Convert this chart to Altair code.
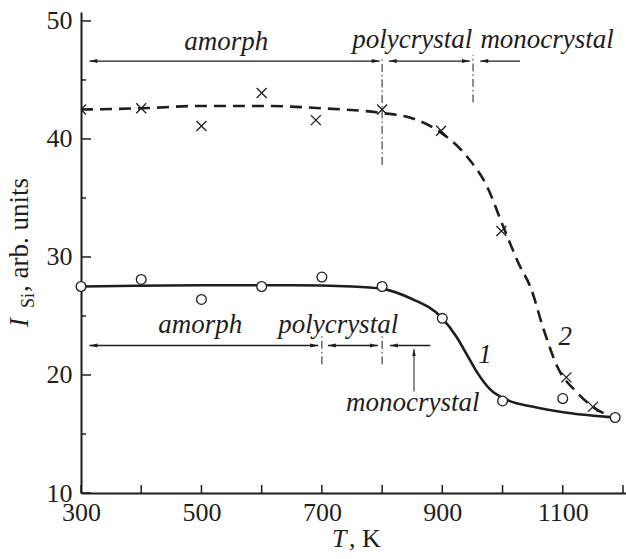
import altair as alt
import pandas as pd

# ---- data ----
# curve 1 (circles, solid fit)
c1_T = [300, 400, 500, 600, 700, 800, 900, 1000, 1100, 1187]
c1_I = [27.5, 28.1, 26.4, 27.5, 28.3, 27.5, 24.8, 17.8, 18.0, 16.4]
fit1_T = [300, 500, 650, 750, 800, 847, 898, 924, 941, 958, 979, 1007, 1051, 1107, 1187]
fit1_I = [27.5, 27.6, 27.6, 27.5, 27.3, 26.5, 24.9, 23.2, 21.7, 20.2, 18.8, 17.9, 17.3, 16.8, 16.4]
# curve 2 (crosses, dashed fit)
c2_T = [300, 400, 500, 600, 690, 800, 898, 998, 1106, 1150]
c2_I = [42.5, 42.6, 41.1, 43.9, 41.6, 42.5, 40.7, 32.2, 19.8, 17.3]
fit2_T = [300, 400, 500, 600, 700, 800, 847, 896, 941, 974, 1001, 1029, 1046, 1068, 1091, 1124, 1150, 1184]
fit2_I = [42.5, 42.6, 42.8, 42.8, 42.6, 42.2, 41.8, 40.6, 38.5, 36.0, 32.6, 29.2, 27.5, 23.9, 20.7, 18.5, 17.3, 16.4]

# phase boundary annotations
arrow_T1 = [314, 811, 963, 314, 710, 813]
arrow_T2 = [796, 946, 1029, 694, 793, 880]
arrow_I = [46.6, 46.6, 46.6, 22.5, 22.5, 22.5]
arrow_left = [True, True, True, True, True, True]
arrow_right = [True, True, False, True, True, False]
vline_T = [800, 951, 700, 800]
vline_I1 = [37.8, 43.1, 20.9, 20.9]
vline_I2 = [46.9, 47.1, 23.3, 23.3]
up_T = [853]
up_I1 = [18.6]
up_I2 = [22.2]

label_text = ["amorph", "polycrystal", "monocrystal", "amorph", "polycrystal", "monocrystal", "1", "2"]
label_T = [541, 850, 1074, 498, 727, 851, 971, 1104]
label_I = [48.2, 48.4, 48.4, 24.2, 24.2, 17.6, 21.7, 23.2]

y_major = [10, 20, 30, 40, 50]
y_minor = [15, 25, 35, 45]
x_ticks = [300, 400, 500, 600, 700, 800, 900, 1000, 1100, 1200]
x_labels = [300, 500, 700, 900, 1100]

W, H = 545, 481
INK = "#1e1e1e"
FONT = "'Liberation Serif', 'Times New Roman', serif"

xs = alt.Scale(domain=[300, 1205], nice=False, zero=False)
ys = alt.Scale(domain=[10, 50.76], nice=False, zero=False)
xa = alt.Axis(values=x_labels, ticks=False, labelFont=FONT, labelFontSize=26, labelColor=INK,
              labelPadding=6, labelFlush=False, format="d",
              domainColor=INK, domainWidth=2, grid=False, title=None)
ya = alt.Axis(values=y_major, ticks=False, labelFont=FONT, labelFontSize=26, labelColor=INK,
              labelPadding=9, labelFlush=False, format="d",
              domainColor=INK, domainWidth=2, grid=False, title=None)

X = lambda f="T": alt.X(f"{f}:Q", scale=xs, axis=xa)
Y = lambda f="I": alt.Y(f"{f}:Q", scale=ys, axis=ya)

ymaj = alt.Chart(pd.DataFrame({"I": y_major})).mark_rule(color=INK, strokeWidth=1.5).encode(
    y=Y(), x=alt.value(0), x2=alt.value(10))
ymin = alt.Chart(pd.DataFrame({"I": y_minor})).mark_rule(color=INK, strokeWidth=1.5).encode(
    y=Y(), x=alt.value(0), x2=alt.value(5))
xt = alt.Chart(pd.DataFrame({"T": x_ticks})).mark_rule(color=INK, strokeWidth=1.5).encode(
    x=X(), y=alt.value(H), y2=alt.value(H - 8))

fit1 = alt.Chart(pd.DataFrame({"T": fit1_T, "I": fit1_I})).mark_line(
    color=INK, strokeWidth=2.6, interpolate="monotone").encode(x=X(), y=Y())
fit2 = alt.Chart(pd.DataFrame({"T": fit2_T, "I": fit2_I})).mark_line(
    color=INK, strokeWidth=2.6, strokeDash=[12, 7], interpolate="monotone").encode(x=X(), y=Y())

pts1 = alt.Chart(pd.DataFrame({"T": c1_T, "I": c1_I})).mark_point(
    shape="circle", size=95, filled=True, fill="white", stroke=INK, strokeWidth=1.3, opacity=1).encode(x=X(), y=Y())
pts2 = alt.Chart(pd.DataFrame({"T": c2_T, "I": c2_I})).mark_point(
    shape="M-1,-1L1,1M-1,1L1,-1", size=100, filled=False, stroke=INK, strokeWidth=1.3, clip=True, opacity=1).encode(x=X(), y=Y())

arr_df = pd.DataFrame({"T": arrow_T1, "T2": arrow_T2, "I": arrow_I,
                       "L": arrow_left, "R": arrow_right})
arr_lines = alt.Chart(arr_df).mark_rule(color=INK, strokeWidth=1.4).encode(
    x=X(), x2="T2:Q", y=Y())
heads_l = alt.Chart(arr_df[arr_df["L"]]).mark_point(
    shape="M0,0L2,-0.5L2,0.5Z", size=64, filled=True, color=INK, opacity=1).encode(x=X(), y=Y())
heads_r = alt.Chart(arr_df[arr_df["R"]]).mark_point(
    shape="M0,0L-2,-0.5L-2,0.5Z", size=64, filled=True, color=INK, opacity=1).encode(x=X("T2"), y=Y())

vl = alt.Chart(pd.DataFrame({"T": vline_T, "I": vline_I1, "I2": vline_I2})).mark_rule(
    color=INK, strokeWidth=1.0, strokeDash=[8, 3, 1.5, 3]).encode(x=X(), y=Y(), y2="I2:Q")

up_df = pd.DataFrame({"T": up_T, "I": up_I1, "I2": up_I2})
up_line = alt.Chart(up_df).mark_rule(color=INK, strokeWidth=1.0).encode(x=X(), y=Y(), y2="I2:Q")
up_head = alt.Chart(up_df).mark_point(
    shape="M0,0L-0.5,2L0.5,2Z", size=49, filled=True, color=INK, opacity=1).encode(x=X(), y=Y("I2"))

labels = alt.Chart(pd.DataFrame({"T": label_T, "I": label_I, "txt": label_text})).mark_text(
    font=FONT, fontSize=27, fontStyle="italic", color=INK, align="center", baseline="middle").encode(
    x=X(), y=Y(), text="txt:N")

# axis titles built from pieces (italic symbol + subscript)
one = pd.DataFrame({"k": [0]})
def piece(txt, x, y, size, italic=False, angle=0):
    return alt.Chart(one).mark_text(text=txt, font=FONT, fontSize=size,
                                     fontStyle="italic" if italic else "normal",
                                     color=INK, align="left", baseline="alphabetic",
                                     angle=angle).encode(x=alt.value(x), y=alt.value(y))

titles = [
    piece("T", 251, 535, 26, italic=True),
    piece(", K", 268, 535, 26),
    piece("I", -53, 315, 27, italic=True, angle=270),
    piece("Si", -47, 296, 18, angle=270),
    piece(", arb. units", -53, 280, 27, angle=270),
]

chart = alt.layer(ymaj, ymin, xt, vl, arr_lines, heads_l, heads_r, up_line, up_head,
                  fit1, fit2, pts1, pts2, labels, *titles).properties(
    width=W, height=H,
    autosize=alt.AutoSizeParams(type="none"),
    padding={"left": 81, "top": 12, "right": 0, "bottom": 66},
).configure_view(stroke=None)

chart.save("out.html", embed_options={"renderer": "svg", "actions": False})
